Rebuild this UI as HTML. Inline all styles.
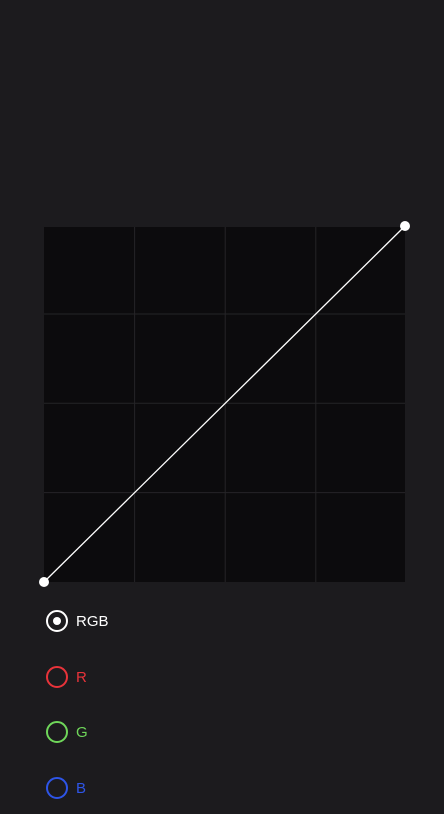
<!DOCTYPE html>
<html><head><meta charset="utf-8"><style>
html,body{margin:0;padding:0;background:#1c1b1e;width:444px;height:814px;overflow:hidden;font-family:"Liberation Sans",sans-serif}
.r{position:absolute;left:46px;height:22px;display:flex;align-items:center;font-size:15px}
.c{border:2px solid;border-radius:50%;box-sizing:border-box;margin-right:8px;position:relative;width:22px;height:22px}
</style></head><body>
<svg width="444" height="600" style="position:absolute;left:0;top:0">
<rect x="44" y="227" width="361" height="355" fill="#0c0b0d"/>
<g id="grid" stroke="#252427" stroke-width="1"></g>
<polyline id="curve" fill="none" stroke="#fff" stroke-width="1.3"/>
<g id="pts"></g>
</svg>
<div class="r" style="top:610px;color:#fff"><span class="c" style="border-color:#fff"><span style="position:absolute;left:5px;top:5px;width:8px;height:8px;border-radius:50%;background:#fff"></span></span>RGB</div>
<div class="r" style="top:666px;color:#e8333a"><span class="c" style="border-color:#e8333a"></span>R</div>
<div class="r" style="top:721px;color:#6fd75a"><span class="c" style="border-color:#6fd75a"></span>G</div>
<div class="r" style="top:777px;color:#2e55e8"><span class="c" style="border-color:#2e55e8"></span>B</div>
<script>
const inputs=[0,255];
const outputs=[0,255];
const gridTicks=[64,128,192];
const X=v=>44+v/255*361, Y=v=>582-v/255*356;
const g=document.getElementById('grid');
gridTicks.forEach(t=>{
 const a=document.createElementNS('http://www.w3.org/2000/svg','line');
 
 
 a.setAttribute('x1',X(t));a.setAttribute('x2',X(t));a.setAttribute('y1',227);a.setAttribute('y2',582);g.appendChild(a);
 const b=document.createElementNS('http://www.w3.org/2000/svg','line');
 
 
 b.setAttribute('y1',Y(t));b.setAttribute('y2',Y(t));b.setAttribute('x1',44);b.setAttribute('x2',405);g.appendChild(b);
});
document.getElementById('curve').setAttribute('points',inputs.map((v,i)=>X(v)+','+Y(outputs[i])).join(' '));
const p=document.getElementById('pts');
inputs.forEach((v,i)=>{
 const c=document.createElementNS('http://www.w3.org/2000/svg','circle');
 
 
 c.setAttribute('cx',X(v));c.setAttribute('cy',Y(outputs[i]));c.setAttribute('r',5);c.setAttribute('fill','#fff');p.appendChild(c);
});
</script>
</body></html>
